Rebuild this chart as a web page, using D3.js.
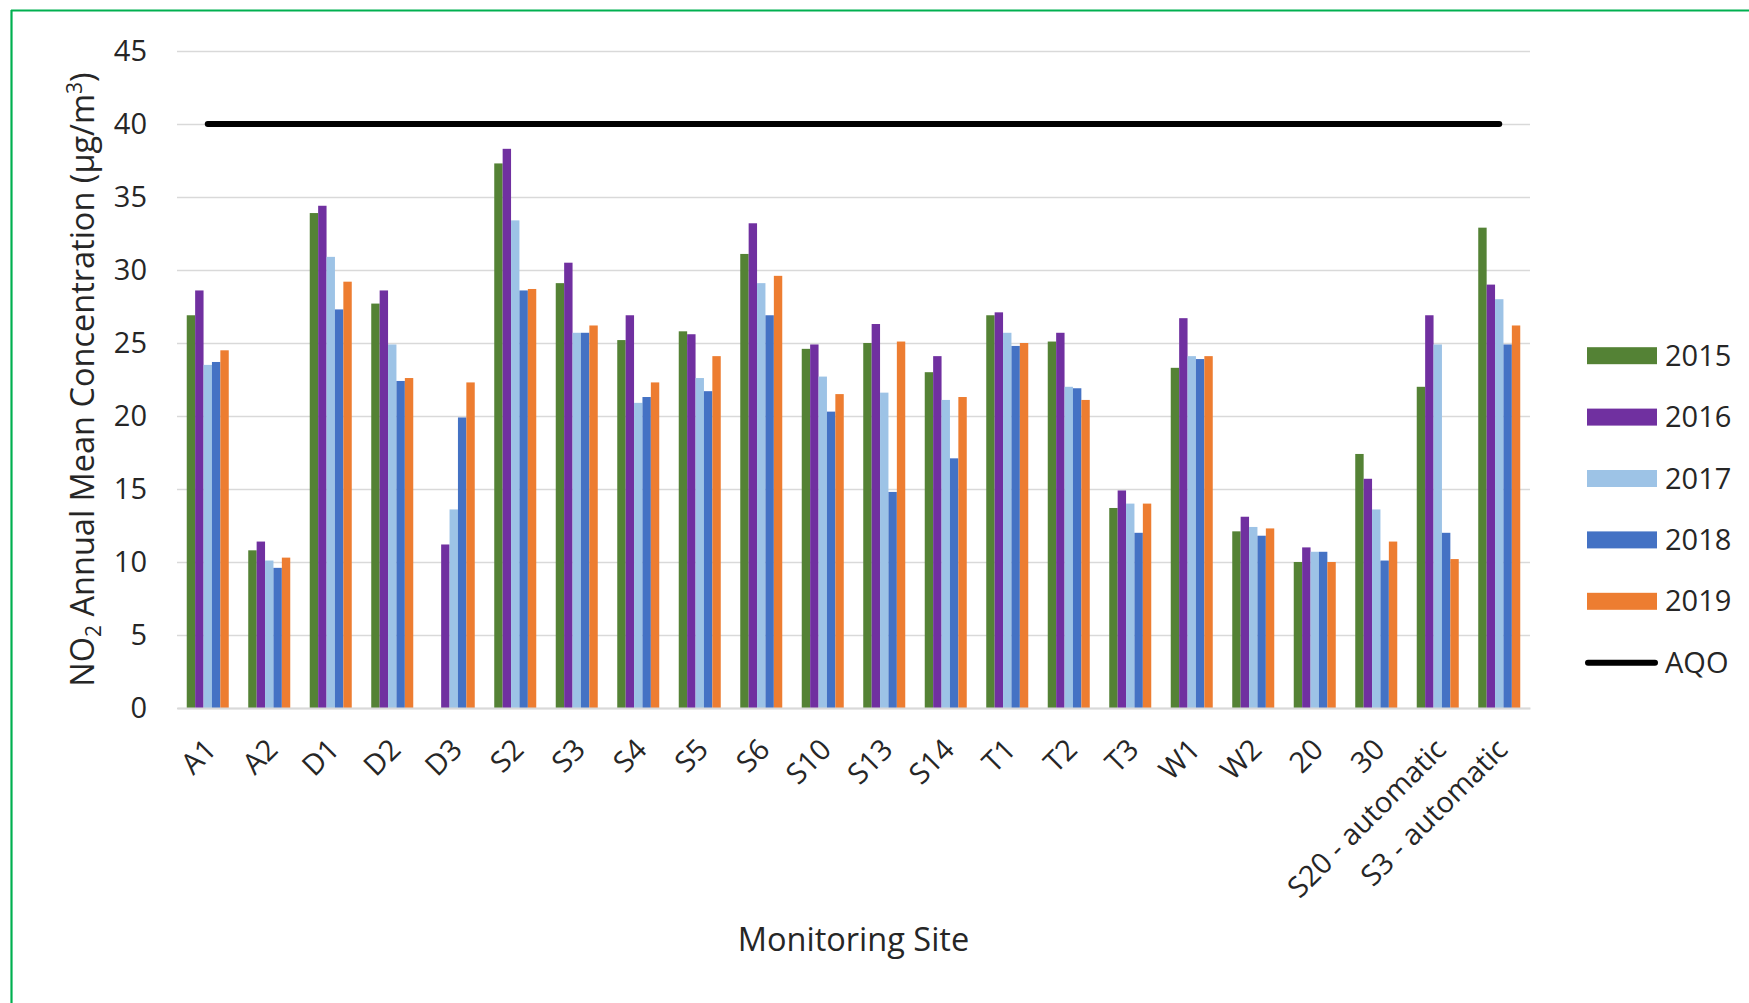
<!DOCTYPE html>
<html>
<head>
<meta charset="utf-8">
<script src="https://cdn.jsdelivr.net/npm/d3@7"></script>
<style>
  html, body { margin: 0; padding: 0; background: #fff; }
  svg { display: block; }
  text { font-family: "Open Sans", "Noto Sans", sans-serif; fill: #262626; }
</style>
</head>
<body>
<svg id="chart" width="1749" height="1003"></svg>
<script>
const sites = ["A1","A2","D1","D2","D3","S2","S3","S4","S5","S6","S10","S13","S14","T1","T2","T3","W1","W2","20","30","S20 - automatic","S3 - automatic"];
const years = ["2015","2016","2017","2018","2019"];
const v2015 = [26.9,10.8,33.9,27.7,null,37.3,29.1,25.2,25.8,31.1,24.6,25.0,23.0,26.9,25.1,13.7,23.3,12.1,10.0,17.4,22.0,32.9];
const v2016 = [28.6,11.4,34.4,28.6,11.2,38.3,30.5,26.9,25.6,33.2,24.9,26.3,24.1,27.1,25.7,14.9,26.7,13.1,11.0,15.7,26.9,29.0];
const v2017 = [23.5,10.1,30.9,24.9,13.6,33.4,25.7,20.9,22.6,29.1,22.7,21.6,21.1,25.7,22.0,14.0,24.1,12.4,10.7,13.6,24.9,28.0];
const v2018 = [23.7,9.6,27.3,22.4,19.9,28.6,25.7,21.3,21.7,26.9,20.3,14.8,17.1,24.8,21.9,12.0,23.9,11.8,10.7,10.1,12.0,24.9];
const v2019 = [24.5,10.3,29.2,22.6,22.3,28.7,26.2,22.3,24.1,29.6,21.5,25.1,21.3,25.0,21.1,14.0,24.1,12.3,10.0,11.4,10.2,26.2];
const aqo = [40,40,40,40,40,40,40,40,40,40,40,40,40,40,40,40,40,40,40,40,40,40];
const yTicks = [0,5,10,15,20,25,30,35,40,45];
const colors = ["#548235","#7030a0","#9dc3e6","#4472c4","#ed7d31"];

const seriesValues = [v2015, v2016, v2017, v2018, v2019];
const series = years.map((y, i) => ({ year: y, color: colors[i], values: seriesValues[i] }));

const svg = d3.select("#chart");
const plot = { left: 177, right: 1530, top: 51, bottom: 708 };

// green frame (top and left)
svg.append("line").attr("x1", 11).attr("x2", 1749).attr("y1", 10.5).attr("y2", 10.5)
  .attr("stroke", "#00b050").attr("stroke-width", 2.2);
svg.append("line").attr("x1", 11.5).attr("x2", 11.5).attr("y1", 10).attr("y2", 1003)
  .attr("stroke", "#00b050").attr("stroke-width", 2.2);

const x0 = d3.scaleBand().domain(sites).range([plot.left, plot.right]).padding(0);
const groupW = x0.bandwidth() * 0.683;
const x1 = d3.scaleBand().domain(years).range([0, groupW]).padding(0);
const y = d3.scaleLinear().domain([0, 45]).range([plot.bottom, plot.top]);

// gridlines + y axis
const yAxis = d3.axisLeft(y).tickValues(yTicks).tickSize(-(plot.right - plot.left)).tickPadding(30);
const gy = svg.append("g").attr("transform", `translate(${plot.left},0)`).call(yAxis);
gy.select(".domain").remove();
gy.selectAll(".tick line").attr("stroke", "#d9d9d9").attr("stroke-width", 1.6);
gy.selectAll(".tick text").attr("font-size", 29).attr("fill", "#262626")
  .attr("font-family", "'Open Sans', sans-serif");

// bars
const groups = svg.append("g").selectAll("g").data(sites).join("g")
  .attr("transform", d => `translate(${x0(d) + (x0.bandwidth() - groupW) / 2},0)`);
groups.selectAll("rect")
  .data((d, i) => series.map(s => ({ year: s.year, color: s.color, v: s.values[i] })).filter(e => e.v != null))
  .join("rect")
  .attr("x", d => x1(d.year))
  .attr("width", x1.bandwidth())
  .attr("y", d => y(d.v))
  .attr("height", d => y(0) - y(d.v))
  .attr("fill", d => d.color);

// x axis baseline + labels
const xAxis = d3.axisBottom(x0).tickSize(0).tickPadding(0);
const gx = svg.append("g").attr("transform", `translate(0,${plot.bottom})`).call(xAxis);
gx.select(".domain").attr("stroke", "#d9d9d9").attr("stroke-width", 2);
gx.selectAll(".tick text")
  .attr("font-size", 29).attr("fill", "#262626")
  .attr("font-family", "'Open Sans', sans-serif")
  .attr("text-anchor", "end")
  .attr("dy", "0.35em")
  .attr("transform", "translate(3,36) rotate(-45)");

// AQO line
const line = d3.line().x((d, i) => x0(sites[i]) + x0.bandwidth() / 2).y(d => y(d));
svg.append("path").datum(aqo).attr("d", line)
  .attr("fill", "none").attr("stroke", "#000").attr("stroke-width", 6).attr("stroke-linecap", "round");

// Y axis title
const yt = svg.append("text")
  .attr("transform", `translate(94,${(plot.top + plot.bottom) / 2}) rotate(-90)`)
  .attr("text-anchor", "middle").attr("font-size", 32.5);
yt.append("tspan").text("NO");
yt.append("tspan").attr("font-size", 21).attr("dy", 7).text("2");
yt.append("tspan").attr("dy", -7).text(" Annual Mean Concentration (µg/m");
yt.append("tspan").attr("font-size", 21).attr("dy", -12).text("3");
yt.append("tspan").attr("dy", 12).text(")");

// X axis title
svg.append("text").attr("x", (plot.left + plot.right) / 2).attr("y", 951)
  .attr("text-anchor", "middle").attr("font-size", 32.5).text("Monitoring Site");

// Legend
const legendY0 = 355.7, legendStep = 61.4;
const lg = svg.append("g");
series.forEach((s, i) => {
  const cy = legendY0 + i * legendStep;
  lg.append("rect").attr("x", 1587).attr("y", cy - 8.5).attr("width", 70).attr("height", 17).attr("fill", s.color);
  lg.append("text").attr("x", 1665).attr("y", cy).attr("dy", "0.35em").attr("font-size", 29).text(s.year);
});
const aqoY = legendY0 + 5 * legendStep;
lg.append("line").attr("x1", 1588).attr("x2", 1655).attr("y1", aqoY).attr("y2", aqoY)
  .attr("stroke", "#000").attr("stroke-width", 6).attr("stroke-linecap", "round");
lg.append("text").attr("x", 1665).attr("y", aqoY).attr("dy", "0.35em").attr("font-size", 29).text("AQO");
</script>
</body>
</html>
